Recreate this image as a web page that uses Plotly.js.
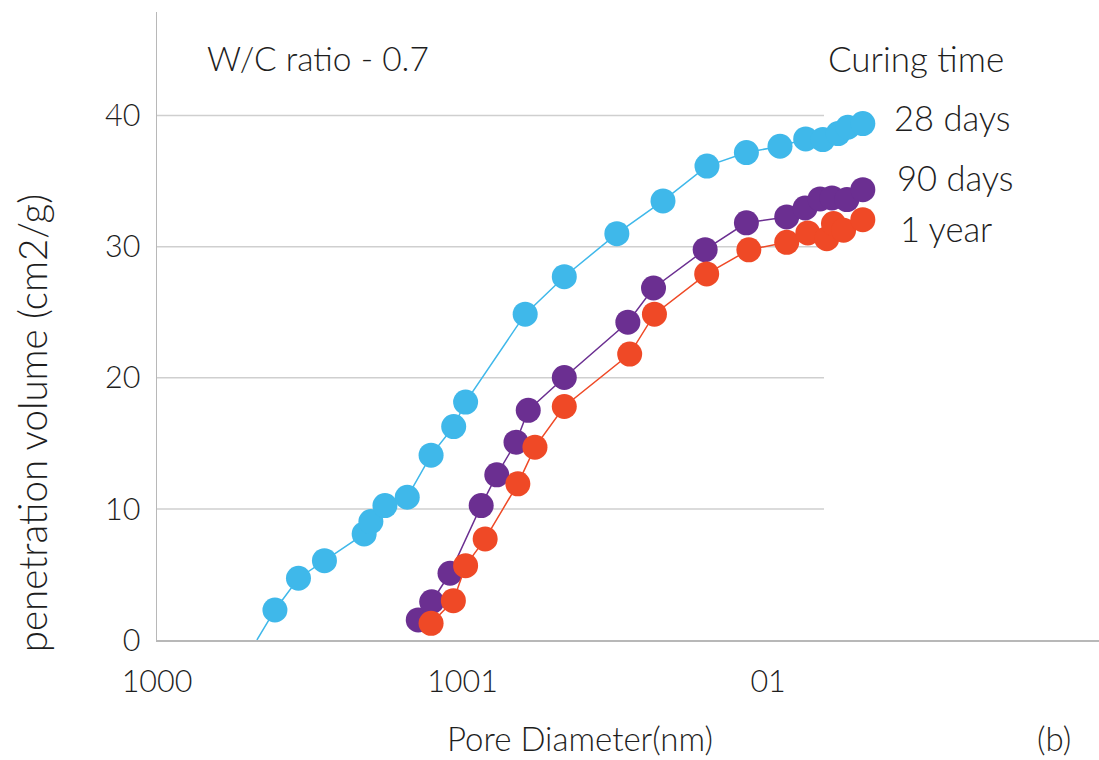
<!DOCTYPE html>
<html>
<head>
<meta charset="utf-8">
<script src="https://cdn.plot.ly/plotly-3.0.1.min.js"></script>
<style>html,body{margin:0;padding:0;background:#fff;}#chart{width:1099px;height:760px;}</style>
</head>
<body>
<div id="chart"></div>
<script>
// X positions are on the chart's own (label-indexed) pore-diameter scale
const xTickVals = [0, 1, 2];
const xTickLabels = ['1000', '1001', '01'];
const yTickVals = [0, 10, 20, 30, 40];

const seriesNames = ['28 days', '90 days', '1 year'];

const days28X = [0.327, 0.386, 0.463, 0.548, 0.678, 0.700, 0.746, 0.819, 0.897, 0.971, 1.010, 1.205, 1.333, 1.505, 1.656, 1.800, 1.929, 2.039, 2.123, 2.179, 2.229, 2.261, 2.310];
const days28Y = [0.0, 2.29, 4.71, 6.05, 8.09, 9.03, 10.25, 10.89, 14.10, 16.28, 18.15, 24.85, 27.71, 30.99, 33.49, 36.15, 37.18, 37.66, 38.22, 38.17, 38.63, 39.11, 39.39];

const days90X = [0.855, 0.899, 0.959, 1.061, 1.112, 1.175, 1.215, 1.333, 1.541, 1.625, 1.794, 1.929, 2.061, 2.121, 2.170, 2.209, 2.258, 2.310];
const days90Y = [1.53, 2.92, 5.09, 10.25, 12.60, 15.09, 17.52, 20.02, 24.24, 26.85, 29.77, 31.82, 32.27, 32.95, 33.64, 33.72, 33.59, 34.35];

const year1X = [0.897, 0.970, 1.010, 1.074, 1.181, 1.237, 1.333, 1.547, 1.628, 1.799, 1.937, 2.061, 2.130, 2.192, 2.214, 2.247, 2.310];
const year1Y = [1.27, 3.00, 5.67, 7.71, 11.91, 14.71, 17.81, 21.81, 24.85, 27.92, 29.76, 30.33, 31.05, 30.61, 31.76, 31.26, 32.06];

const colors = ['#3FB8EA', '#6B2F91', '#EF4926'];
const FONT = 'Lato, "Open Sans", "DejaVu Sans", sans-serif';
const TXT = '#1e1e1e';

function mk(x, y, i, sizes) {
  return {
    x: x, y: y, type: 'scatter', mode: 'lines+markers', name: seriesNames[i],
    line: {color: colors[i], width: 1.5},
    marker: {color: colors[i], size: sizes || 25, opacity: 1, line: {width: 0}},
    hoverinfo: 'x+y', showlegend: false
  };
}
const sz28 = days28X.map((_, i) => i === 0 ? 0 : 25);

const data = [
  mk(days28X, days28Y, 0, sz28),
  mk(days90X, days90Y, 1),
  mk(year1X, year1Y, 2)
];

const gridEnd = 2.183;
const shapes = yTickVals.filter(v => v > 0).map(v => ({
  type: 'line', xref: 'x', yref: 'y', x0: 0, x1: gridEnd, y0: v, y1: v,
  line: {color: '#cfcfcf', width: 1.5}, layer: 'below'
}));

function f(size) { return {family: FONT, size: size, color: TXT, weight: 300}; }
const annotations = [
  {text: 'W/C ratio - 0.7', xref: 'x', yref: 'y', x: 0.157, y: 44.4, xanchor: 'left', yanchor: 'middle', showarrow: false, font: f(33.5)},
  {text: 'Curing time', xref: 'x', yref: 'y', x: 2.19, y: 44.4, xanchor: 'left', yanchor: 'middle', showarrow: false, font: f(35)},
  {text: seriesNames[0], xref: 'x', yref: 'y', x: 2.406, y: 39.85, xanchor: 'left', yanchor: 'middle', showarrow: false, font: f(34.5)},
  {text: seriesNames[1], xref: 'x', yref: 'y', x: 2.416, y: 35.27, xanchor: 'left', yanchor: 'middle', showarrow: false, font: f(34.5)},
  {text: seriesNames[2], xref: 'x', yref: 'y', x: 2.426, y: 31.37, xanchor: 'left', yanchor: 'middle', showarrow: false, font: f(34.5)},
  {text: 'Pore Diameter(nm)', xref: 'paper', yref: 'paper', x: 0.449, y: -0.156, xanchor: 'center', yanchor: 'middle', showarrow: false, font: f(33)},
  {text: '(b)', xref: 'paper', yref: 'paper', x: 0.932, y: -0.156, xanchor: 'left', yanchor: 'middle', showarrow: false, font: f(33)},
  {text: 'penetration volume (cm2/g)', xref: 'paper', yref: 'paper', x: -0.1327, y: 0.345, xanchor: 'center', yanchor: 'middle', textangle: -90, showarrow: false, font: f(38.5)}
];

const layout = {
  width: 1099, height: 760,
  margin: {l: 157, r: 0, t: 12, b: 120, pad: 0},
  paper_bgcolor: '#ffffff', plot_bgcolor: '#ffffff',
  font: f(30),
  showlegend: false,
  xaxis: {
    range: [0, 3.083], tickmode: 'array', tickvals: xTickVals, ticktext: xTickLabels,
    showgrid: false, zeroline: false, showline: true, linecolor: '#b8b8b8', linewidth: 1.5,
    ticks: '', ticklabelstandoff: 14, tickfont: f(30.5),
    fixedrange: true
  },
  yaxis: {
    range: [0, 47.9], tickmode: 'array', tickvals: yTickVals,
    showgrid: false, zeroline: false, showline: true, linecolor: '#b8b8b8', linewidth: 1.5,
    ticks: '', ticklabelstandoff: 9, tickfont: f(30.5),
    fixedrange: true
  },
  shapes: shapes,
  annotations: annotations
};

Plotly.newPlot('chart', data, layout, {displayModeBar: false, staticPlot: true});
</script>
</body>
</html>
